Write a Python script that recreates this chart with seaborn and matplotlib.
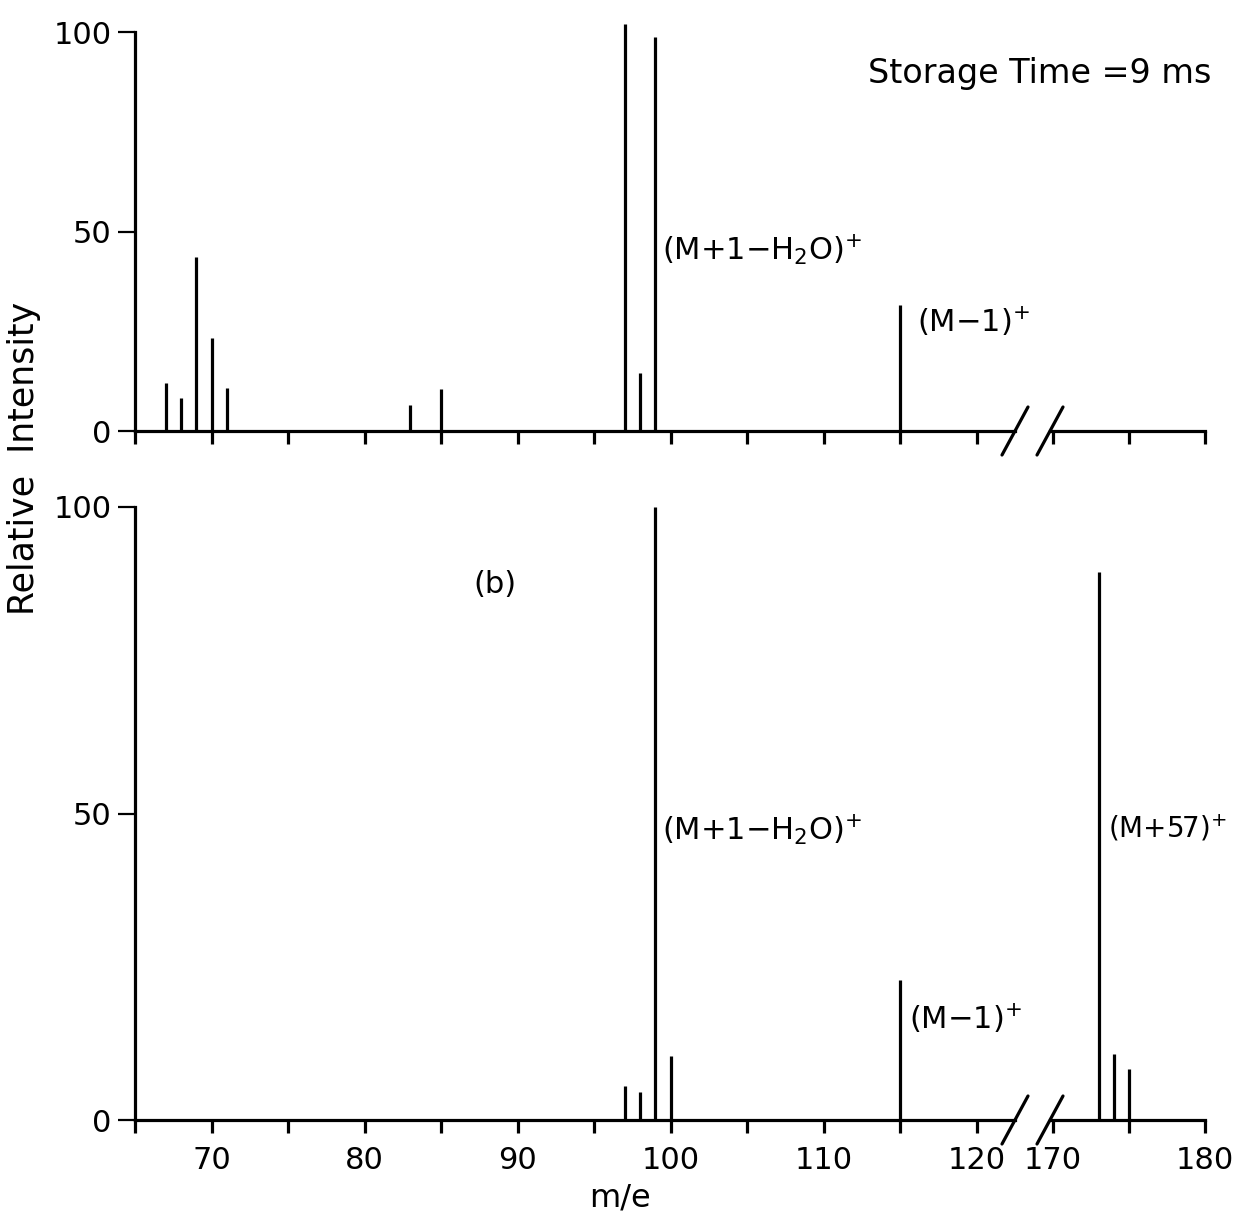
import matplotlib
matplotlib.use("Agg")
import matplotlib.pyplot as plt
import seaborn as sns
from matplotlib.lines import Line2D

# ---- spectrum data (m/e, relative intensity) ----
top_mz = [67, 68, 69, 70, 71, 83, 85, 97, 98, 99, 115]
top_int = [12, 8.3, 43.5, 23.3, 10.8, 6.5, 10.5, 102, 14.5, 98.7, 31.6]

bot_mz = [97, 98, 99, 100, 115, 173, 174, 175]
bot_int = [5.6, 4.5, 100, 10.5, 22.9, 89.4, 10.8, 8.3]

low_ticks = [65, 70, 75, 80, 85, 90, 95, 100, 105, 110, 115, 120]
low_labels = ["", "70", "", "80", "", "90", "", "100", "", "110", "", "120"]
high_ticks = [170, 175, 180]
high_labels = ["170", "", "180"]
y_ticks = [0, 50, 100]

sns.set_theme(style="ticks")
plt.rcParams["font.family"] = ["DejaVu Sans"]
plt.rcParams["mathtext.default"] = "regular"

W, H = 1247, 1216
fig = plt.figure(figsize=(W / 100, H / 100), dpi=100)
fig.patch.set_facecolor("white")

LW = 2.3
FS = 22


def frac_box(x0, x1, y_base, y_top):
    """Pixel box (top-left origin) to figure fraction rect."""
    return [x0 / W, 1 - y_base / H, (x1 - x0) / W, (y_base - y_top) / H]


def style_axis(ax, xlim, ylim, ticks, labels, show_labels, show_y):
    ax.set_facecolor("none")
    ax.set_xlim(*xlim)
    ax.set_ylim(*ylim)
    for s in ["top", "right"]:
        ax.spines[s].set_visible(False)
    ax.spines["bottom"].set_linewidth(LW)
    ax.spines["bottom"].set_color("black")
    ax.set_xticks(ticks)
    if show_labels:
        ax.set_xticklabels(labels, fontsize=FS)
    else:
        ax.set_xticklabels([])
    ax.tick_params(axis="x", direction="out", length=9, width=LW,
                   color="black", pad=10, labelcolor="black")
    if show_y:
        ax.spines["left"].set_linewidth(LW)
        ax.spines["left"].set_color("black")
        ax.spines["left"].set_bounds(0, 100)
        ax.set_yticks(y_ticks)
        ax.set_yticklabels([str(v) for v in y_ticks], fontsize=FS)
        ax.tick_params(axis="y", direction="out", length=12, width=1.6,
                       color="black", pad=5, labelcolor="black")
    else:
        ax.spines["left"].set_visible(False)
        ax.set_yticks([])
    ax.grid(False)


def draw_peaks(ax_lo, ax_hi, mz, inten):
    lo = [(m, v) for m, v in zip(mz, inten) if m < 150]
    hi = [(m, v) for m, v in zip(mz, inten) if m >= 150]
    if lo:
        ax_lo.vlines([m for m, _ in lo], 0, [v for _, v in lo],
                     colors="black", linewidth=LW, clip_on=False)
    if hi:
        ax_hi.vlines([m for m, _ in hi], 0, [v for _, v in hi],
                     colors="black", linewidth=LW, clip_on=False)


# axes layout: left block 65-122.5, right block 169.8-180
top_lo = fig.add_axes(frac_box(135, 1015, 431, 431 - 103 * 3.99))
top_hi = fig.add_axes(frac_box(1050, 1205, 431, 431 - 103 * 3.99))
bot_lo = fig.add_axes(frac_box(135, 1015, 1120, 1120 - 101 * 6.13))
bot_hi = fig.add_axes(frac_box(1050, 1205, 1120, 1120 - 101 * 6.13))

style_axis(top_lo, (65, 122.5), (0, 103), low_ticks, low_labels, False, True)
style_axis(top_hi, (169.8, 180), (0, 103), high_ticks, high_labels, False, False)
style_axis(bot_lo, (65, 122.5), (0, 101), low_ticks, low_labels, True, True)
style_axis(bot_hi, (169.8, 180), (0, 101), high_ticks, high_labels, True, False)

draw_peaks(top_lo, top_hi, top_mz, top_int)
draw_peaks(bot_lo, bot_hi, bot_mz, bot_int)

# peak annotations
ann = dict(fontsize=22, color="black", va="center", ha="left")
top_lo.text(99.45, 45.5, r"(M+1$-$H$_2$O)$^{+}$", **ann)
top_lo.text(116.1, 27.5, r"(M$-$1)$^{+}$", **ann)
bot_lo.text(99.45, 47.3, r"(M+1$-$H$_2$O)$^{+}$", **ann)
bot_lo.text(115.6, 16.5, r"(M$-$1)$^{+}$", **ann)
bot_hi.text(173.6, 47.6, r"(M+57)$^{+}$", clip_on=False,
            fontsize=20, color="black", va="center", ha="left")
bot_lo.text(88.5, 87.3, "(b)", fontsize=22, color="black", ha="center", va="center")

fig.text(868 / W, 1 - 73 / H, "Storage Time =9 ms", fontsize=24,
         color="black", ha="left", va="center")
fig.text(24 / W, 1 - 458 / H, "Relative  Intensity", fontsize=25,
         rotation=90, color="black", ha="center", va="center")
fig.text(620 / W, 1 - 1198 / H, "m/e", fontsize=23, color="black",
         ha="center", va="center")

# axis-break slashes at the end of the low block and start of the high block
for ax_lo, ax_hi in [(top_lo, top_hi), (bot_lo, bot_hi)]:
    p_lo = ax_lo.get_position()
    p_hi = ax_hi.get_position()
    base = p_lo.y0
    dx, dy = 13 / W, 24 / H
    for xc in (p_lo.x1, p_hi.x0):
        fig.add_artist(Line2D([xc - dx, xc + dx], [base - dy, base + dy],
                              transform=fig.transFigure, color="black",
                              linewidth=LW))

fig.savefig("out.png", dpi=100, facecolor="white")
